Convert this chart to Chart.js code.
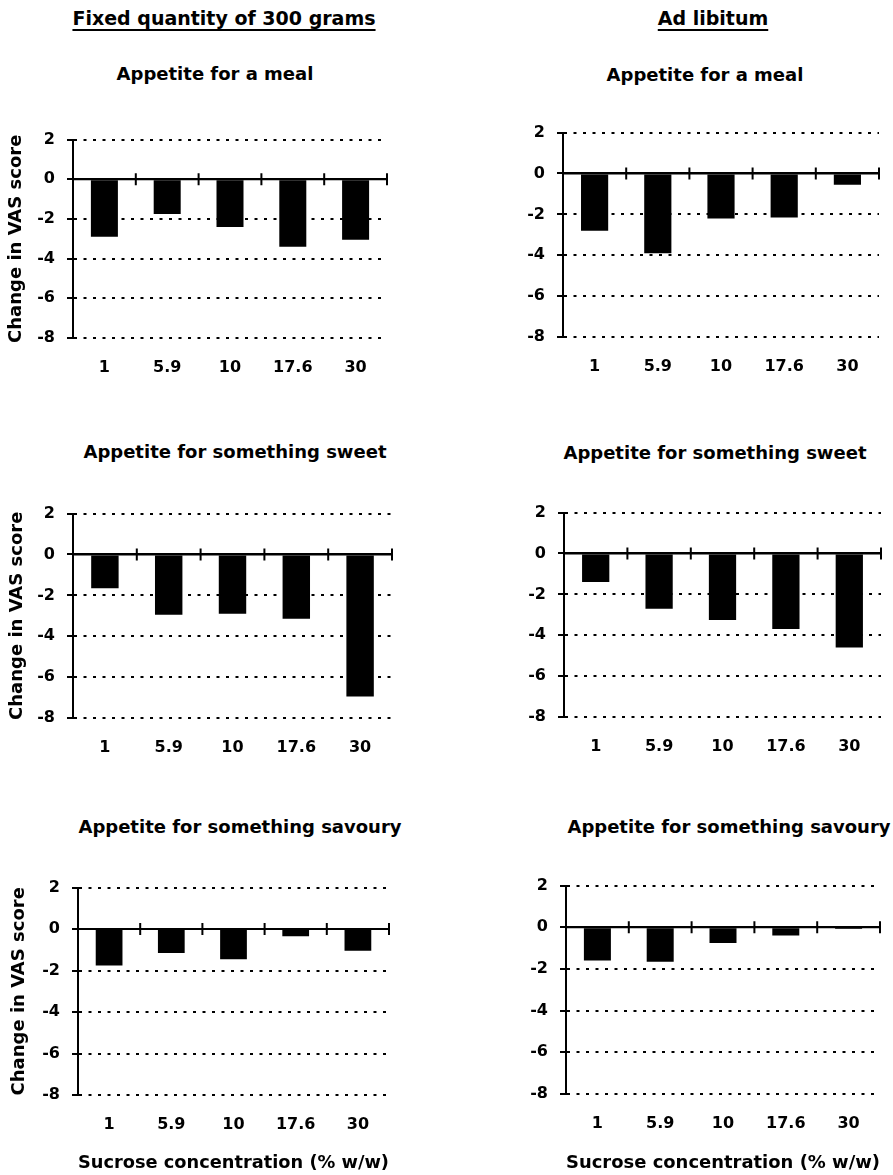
<!DOCTYPE html>
<html lang="en">
<head>
<meta charset="UTF-8">
<title>Change in VAS score by sucrose concentration</title>
<script src="https://cdn.jsdelivr.net/npm/chart.js"></script>
<style>
  body {
    margin: 0;
    background: #fff;
    width: 893px;
    height: 1175px;
    position: relative;
    overflow: hidden;
    font-family: 'DejaVu Sans', sans-serif;
    font-weight: bold;
    color: #000;
  }
  .header {
    position: absolute;
    top: 7px;
    width: 400px;
    font-size: 19px;
    line-height: 22px;
    text-align: center;
    white-space: nowrap;
    text-decoration: underline;
    text-decoration-thickness: 2px;
    text-underline-offset: 4px;
  }
  .panel-title {
    position: absolute;
    width: 400px;
    font-size: 18px;
    line-height: 20px;
    text-align: center;
    white-space: nowrap;
  }
  canvas { position: absolute; }
</style>
</head>
<body>

<!-- HEADERS -->
<div class="header" style="left:24px">Fixed quantity of 300 grams</div>
<div class="header" style="left:513px">Ad libitum</div>

<!-- PANEL TITLES -->
<div class="panel-title" style="left:15px; top:64px">Appetite for a meal</div>
<div class="panel-title" style="left:505px; top:65px">Appetite for a meal</div>
<div class="panel-title" style="left:35px; top:442px">Appetite for something sweet</div>
<div class="panel-title" style="left:515px; top:443px">Appetite for something sweet</div>
<div class="panel-title" style="left:40px; top:817px">Appetite for something savoury</div>
<div class="panel-title" style="left:529px; top:817px">Appetite for something savoury</div>

<!-- CHARTS -->
<canvas id="fixedMealChart"></canvas>
<canvas id="adlibMealChart"></canvas>
<canvas id="fixedSweetChart"></canvas>
<canvas id="adlibSweetChart"></canvas>
<canvas id="fixedSavouryChart"></canvas>
<canvas id="adlibSavouryChart"></canvas>

<script>
  // Sucrose concentration (% w/w)
  const concentrations = ['1', '5.9', '10', '17.6', '30'];

  // Change in VAS score, fixed quantity of 300 grams
  const fixedMeal = [-2.9, -1.75, -2.4, -3.4, -3.05];
  const fixedSweet = [-1.65, -2.95, -2.9, -3.15, -6.95];
  const fixedSavoury = [-1.75, -1.15, -1.45, -0.35, -1.05];

  // Change in VAS score, ad libitum
  const adlibMeal = [-2.8, -3.9, -2.2, -2.15, -0.55];
  const adlibSweet = [-1.4, -2.7, -3.25, -3.7, -4.6];
  const adlibSavoury = [-1.6, -1.65, -0.75, -0.4, -0.08];

  // y axis ticks
  const yMin = -8;
  const yMax = 2;
  const yStep = 2;

  const yAxisTitle = 'Change in VAS score';
  const xAxisTitle = 'Sucrose concentration (% w/w)';

  Chart.defaults.font.family = "'DejaVu Sans', sans-serif";
  Chart.defaults.font.weight = 'bold';
  Chart.defaults.color = '#000';

  // where each plot area sits on the page (left/right/top/bottom of the plot area)
  const panels = [
    { id: 'fixedMealChart', values: fixedMeal, canvasLeft: 0, left: 73, right: 387, top: 138, bottom: 338, yTitle: true, yTitlePad: 6, xTitle: false },
    { id: 'adlibMealChart', values: adlibMeal, canvasLeft: 446, left: 563, right: 879, top: 131, bottom: 337, yTitle: false, yTitlePad: 0, xTitle: false },
    { id: 'fixedSweetChart', values: fixedSweet, canvasLeft: 0, left: 73, right: 392, top: 512, bottom: 718, yTitle: true, yTitlePad: 7, xTitle: false },
    { id: 'adlibSweetChart', values: adlibSweet, canvasLeft: 446, left: 564, right: 881, top: 511, bottom: 717, yTitle: false, yTitlePad: 0, xTitle: false },
    { id: 'fixedSavouryChart', values: fixedSavoury, canvasLeft: 0, left: 78, right: 389, top: 886, bottom: 1095, yTitle: true, yTitlePad: 9, xTitle: true },
    { id: 'adlibSavouryChart', values: adlibSavoury, canvasLeft: 446, left: 566, right: 880, top: 884, bottom: 1094, yTitle: false, yTitlePad: 0, xTitle: true }
  ];

  const padTop = 20;
  const padRight = 10;
  const xTitleCenter = 1163;

  // solid zero line with small tick marks at the category boundaries
  const zeroLine = {
    id: 'zeroLine',
    afterDatasetsDraw(chart) {
      const { ctx, scales: { x, y } } = chart;
      const y0 = y.getPixelForValue(0);
      const half = x.width / chart.data.labels.length / 2;
      ctx.save();
      ctx.strokeStyle = '#000';
      ctx.lineWidth = 2;
      ctx.beginPath();
      ctx.moveTo(x.left, y0);
      ctx.lineTo(x.right, y0);
      for (let i = 0; i < chart.data.labels.length; i++) {
        const xi = x.getPixelForValue(i) + half;
        ctx.moveTo(xi, y0 - 6);
        ctx.lineTo(xi, y0 + 6);
      }
      ctx.stroke();
      ctx.restore();
    }
  };

  function drawPanel(p) {
    const canvas = document.getElementById(p.id);
    const axisHeight = p.xTitle ? Math.round(xTitleCenter + 14.8 - p.bottom) : 50;
    const width = p.right + padRight - p.canvasLeft;
    const height = padTop + (p.bottom - p.top) + axisHeight;

    canvas.width = width;
    canvas.height = height;
    canvas.style.left = p.canvasLeft + 'px';
    canvas.style.top = (p.top - padTop) + 'px';
    canvas.style.width = width + 'px';
    canvas.style.height = height + 'px';

    new Chart(canvas, {
      type: 'bar',
      data: {
        labels: concentrations,
        datasets: [{
          data: p.values,
          backgroundColor: '#000',
          borderWidth: 0,
          barPercentage: 0.43,
          categoryPercentage: 1
        }]
      },
      options: {
        responsive: false,
        animation: false,
        devicePixelRatio: 1,
        layout: { padding: { top: padTop, right: padRight, left: 0, bottom: 0 } },
        plugins: {
          legend: { display: false },
          tooltip: { enabled: false }
        },
        scales: {
          x: {
            afterFit(scale) { scale.height = axisHeight; },
            grid: { display: false, drawTicks: false },
            border: { display: false },
            ticks: { padding: 20, font: { size: 16, weight: 'bold' } },
            title: {
              display: p.xTitle,
              text: xAxisTitle,
              font: { size: 18, weight: 'bold' },
              padding: { top: 4, bottom: 4 }
            }
          },
          y: {
            min: yMin,
            max: yMax,
            afterFit(scale) { scale.width = p.left - p.canvasLeft; },
            ticks: { stepSize: yStep, padding: 12, font: { size: 16, weight: 'bold' } },
            grid: { color: '#000', lineWidth: 2, tickLength: 6, tickWidth: 2 },
            border: {
              display: true,
              color: '#000',
              width: 2,
              dash: (c) => (c.tick && c.tick.value === 0) ? [] : [3, 6.5]
            },
            title: {
              display: p.yTitle,
              text: yAxisTitle,
              font: { size: 18, weight: 'bold' },
              padding: { top: p.yTitlePad, bottom: 0 }
            }
          }
        }
      },
      plugins: [zeroLine]
    });
  }

  panels.forEach(drawPanel);
</script>
</body>
</html>
